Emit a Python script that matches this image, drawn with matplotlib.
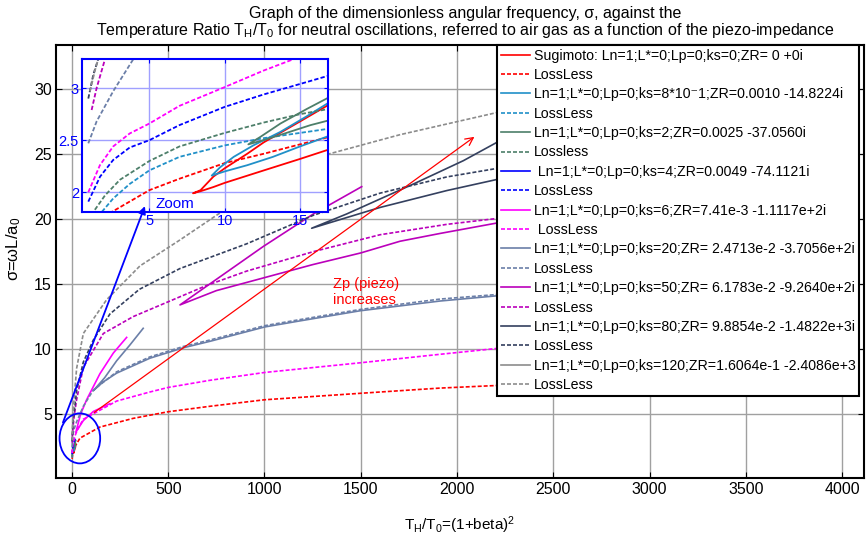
import numpy as np
import matplotlib.pyplot as plt
from matplotlib.patches import Ellipse

plt.rcParams['font.family'] = ['Liberation Sans', 'DejaVu Sans']
plt.rcParams['mathtext.fontset'] = 'custom'
plt.rcParams['mathtext.rm'] = 'Liberation Sans'
plt.rcParams['mathtext.it'] = 'Liberation Sans:italic'

# ---- neutral curves: sigma against TH/T0 (loops drawn lower branch -> tip -> upper branch)
sug_x = [18.0, 16.9, 15.0, 12.6, 10.0, 9.25, 8.4, 7.9, 8.4, 9.25, 10.0, 11.5, 12.6, 15.0, 16.9, 18.0]
sug_y = [2.47, 2.41, 2.32, 2.21, 2.09, 2.05, 2.01, 1.99, 2.02, 2.15, 2.23, 2.37, 2.48, 2.68, 2.84, 2.93]
sugll_x = [1.0, 2.5, 5.0, 7.0, 10.0, 12.6, 15.0, 16.9, 41.6, 145, 318, 500, 717, 1000, 1500, 1912, 2208, 2400]
sugll_y = [1.55, 1.81, 2.02, 2.13, 2.28, 2.37, 2.46, 2.53, 3.15, 4.0, 4.67, 5.18, 5.6, 6.1, 6.6, 7.0, 7.2, 7.35]

k08_x = [18.0, 16.9, 15.0, 13.2, 11.5, 10.0, 9.14, 9.7, 10.6, 11.9, 13.7, 15.45, 16.9, 18.0]
k08_y = [2.58, 2.54, 2.44, 2.34, 2.26, 2.20, 2.16, 2.24, 2.34, 2.45, 2.58, 2.73, 2.86, 2.94]
k08ll_x = [1.2, 1.84, 2.6, 3.7, 5.0, 7.0, 10.0, 12.6, 15.0, 16.9, 18.0]
k08ll_y = [1.65, 1.81, 1.94, 2.08, 2.21, 2.34, 2.45, 2.52, 2.57, 2.61, 2.64]

k2_x = [18.0, 16.9, 15.7, 14.1, 12.8, 11.57, 12.35, 13.7, 15.45, 16.9, 18.0]
k2_y = [2.73, 2.69, 2.645, 2.57, 2.51, 2.46, 2.53, 2.66, 2.80, 2.91, 2.98]
k2ll_x = [1.0, 1.28, 2.06, 3.05, 5.0, 7.0, 10.0, 12.6, 15.0, 16.9, 18.0]
k2ll_y = [1.72, 1.81, 1.97, 2.12, 2.30, 2.44, 2.57, 2.67, 2.75, 2.80, 2.83]

k4_x = []
k4_y = []
k4ll_x = [0.95, 1.73, 2.6, 3.7, 5.0, 7.0, 10.0, 12.6, 15.0, 16.9, 18.0]
k4ll_y = [1.91, 2.15, 2.31, 2.43, 2.50, 2.645, 2.82, 2.94, 3.04, 3.12, 3.16]

k6_x = [197, 111, 59, 20, 45, 76, 145, 215, 284]
k6_y = [5.8, 5.2, 4.5, 3.6, 5.0, 6.1, 8.1, 9.7, 10.9]
k6ll_x = [0.95, 1.72, 2.6, 3.7, 5.0, 7.0, 10.0, 12.6, 14.6, 30, 59, 232, 405, 500, 717, 1000, 1500, 1912, 2208, 2400]
k6ll_y = [2.0, 2.26, 2.44, 2.565, 2.66, 2.83, 3.01, 3.17, 3.28, 3.85, 4.6, 6.0, 6.7, 7.05, 7.6, 8.2, 8.95, 9.6, 10.05, 10.3]

k20_x = [2400, 2206, 1912, 1497, 1176, 1000, 717, 578, 405, 232, 160, 111, 170, 232, 300, 370]
k20_y = [14.35, 14.1, 13.7, 12.95, 12.15, 11.7, 10.6, 10.1, 9.3, 8.15, 7.45, 6.8, 7.8, 9.1, 10.3, 11.6]
k20ll_x = [0.95, 1.5, 2.6, 3.9, 10, 24, 59, 111, 232, 405, 578, 717, 1000, 1176, 1497, 1912, 2206, 2400]
k20ll_y = [2.47, 2.68, 2.97, 3.27, 3.8, 4.4, 5.6, 6.85, 8.25, 9.4, 10.2, 10.7, 11.8, 12.25, 13.05, 13.85, 14.2, 14.45]

k50_x = [2400, 2206, 1912, 1704, 1500, 1250, 1000, 750, 561, 734, 994, 1254, 1505]
k50_y = [20.2, 19.7, 18.9, 18.3, 17.4, 16.5, 15.5, 14.5, 13.4, 15.2, 17.9, 20.4, 22.5]
k50ll_x = [1.17, 1.5, 2.06, 3.5, 10, 24, 59, 163, 318, 509, 700, 907, 1254, 1600, 1947, 2206, 2400]
k50ll_y = [2.79, 3.0, 3.28, 3.6, 4.7, 6.1, 8.6, 11.2, 12.5, 13.7, 14.9, 16.0, 17.5, 18.8, 19.6, 20.05, 20.4]

k80_x = [2400, 2206, 1947, 1600, 1400, 1245, 1427, 1773, 2033, 2206, 2400]
k80_y = [23.5, 23.05, 22.2, 20.9, 20.0, 19.3, 20.4, 22.7, 24.5, 25.9, 27.0]
k80ll_x = [0.95, 1.28, 1.61, 5, 24, 59, 111, 197, 350, 561, 907, 1254, 1600, 1947, 2206, 2400]
k80ll_y = [2.9, 3.13, 3.28, 4.3, 6.8, 9.0, 10.7, 12.7, 14.6, 16.2, 18.1, 20.3, 22.0, 23.25, 23.9, 24.3]

k120_x = []
k120_y = []
k120ll_x = [1.06, 1.39, 1.61, 5, 24, 59, 180, 353, 561, 821, 1081, 1330, 1704, 2206, 2400]
k120ll_y = [2.97, 3.17, 3.28, 5.0, 8.5, 11.2, 13.8, 16.4, 18.4, 21.0, 23.0, 25.0, 26.5, 28.2, 28.8]

labels = [
    'Sugimoto: Ln=1;L*=0;Lp=0;ks=0;ZR= 0 +0i', 'LossLess',
    'Ln=1;L*=0;Lp=0;ks=8*10\u207b1;ZR=0.0010 -14.8224i', 'LossLess',
    'Ln=1;L*=0;Lp=0;ks=2;ZR=0.0025 -37.0560i', 'Lossless',
    ' Ln=1;L*=0;Lp=0;ks=4;ZR=0.0049 -74.1121i', 'LossLess',
    'Ln=1;L*=0;Lp=0;ks=6;ZR=7.41e-3 -1.1117e+2i', ' LossLess',
    'Ln=1;L*=0;Lp=0;ks=20;ZR= 2.4713e-2 -3.7056e+2i', 'LossLess',
    'Ln=1;L*=0;Lp=0;ks=50;ZR= 6.1783e-2 -9.2640e+2i', 'LossLess',
    'Ln=1;L*=0;Lp=0;ks=80;ZR= 9.8854e-2 -1.4822e+3i', 'LossLess',
    'Ln=1;L*=0;Lp=0;ks=120;ZR=1.6064e-1 -2.4086e+3', 'LossLess',
]
colors = ['#ff0000', '#2090c8', '#4d7f6a', '#0000ff', '#ff00ff',
          '#6b7fa8', '#bb00bb', '#34405f', '#8c8c8c']

series = [(sug_x, sug_y), (sugll_x, sugll_y), (k08_x, k08_y), (k08ll_x, k08ll_y),
          (k2_x, k2_y), (k2ll_x, k2ll_y), (k4_x, k4_y), (k4ll_x, k4ll_y),
          (k6_x, k6_y), (k6ll_x, k6ll_y), (k20_x, k20_y), (k20ll_x, k20ll_y),
          (k50_x, k50_y), (k50ll_x, k50ll_y), (k80_x, k80_y), (k80ll_x, k80ll_y),
          (k120_x, k120_y), (k120ll_x, k120ll_y)]

DASH = (0, (2.4, 1.2))

fig = plt.figure(figsize=(8.68, 5.36), dpi=100)
ax = fig.add_axes([0.0645, 0.1082, 0.9309, 0.8078])
ax_in = fig.add_axes([0.0941, 0.605, 0.2838, 0.2849])

handles = []
for i, (xs, ys) in enumerate(series):
    c = colors[i // 2]
    ls = '-' if i % 2 == 0 else DASH
    h, = ax.plot(xs, ys, color=c, ls=ls, lw=1.2, label=labels[i])
    ax_in.plot(xs, ys, color=c, ls=ls, lw=1.3)
    handles.append(h)

# main axes
ax.set_xlim(-83, 4114)
ax.set_ylim(0.08, 33.4)
ax.set_xticks(np.arange(0, 4001, 500))
ax.set_yticks(np.arange(5, 31, 5))
ax.grid(True, color='#a0a0a0', lw=1.0)
ax.tick_params(direction='in', top=True, right=True, length=4, labelsize=11.5, pad=3)
for s in ax.spines.values():
    s.set_linewidth(1.5)
ax.set_xlabel(r'T$_\mathregular{H}$/T$_\mathregular{0}$=(1+beta)$^\mathregular{2}$', fontsize=11)
ax.xaxis.set_label_coords(0.5, -0.085)
ax.set_ylabel('\u03c3=\u03c9L/a$_\mathregular{0}$', fontsize=12)
ax.yaxis.set_label_coords(-0.041, 0.53)

fig.text(0.536, 0.988, 'Graph of the dimensionless angular frequency, \u03c3, against the\n'
         r'Temperature Ratio T$_\mathregular{H}$/T$_\mathregular{0}$ for neutral oscillations, '
         'referred to air gas as a function of the piezo-impedance',
         ha='center', va='top', fontsize=11.5, linespacing=1.0,
         family=['Liberation Sans', 'DejaVu Sans'])

# circle round the low-temperature region and arrows
ax.add_patch(Ellipse((41, 3.13), 211, 3.85, fill=False, edgecolor='#0000ff', lw=1.3, zorder=4))
ax.annotate('', xy=(2102, 26.46), xytext=(104, 5.0),
            arrowprops=dict(arrowstyle='->', color='#ff0000', lw=0.9, mutation_scale=14))
ax.text(1355, 14.4, 'Zp (piezo)\nincreases', color='#ff0000', fontsize=10.5,
        ha='left', va='center', linespacing=1.15)

leg = ax.legend(handles=handles, loc='upper left', bbox_to_anchor=(0.5726, 0.916),
                bbox_transform=fig.transFigure, fontsize=10.2, fancybox=False,
                edgecolor='black', framealpha=1, borderpad=0.25, labelspacing=0.38,
                handlelength=2.1, handletextpad=0.24, borderaxespad=0)
leg.get_frame().set_linewidth(1.5)

# zoomed view
ax_in.set_xlim(0.51, 16.86)
ax_in.set_ylim(1.813, 3.28)
ax_in.set_xticks([5, 10, 15])
ax_in.set_yticks([2, 2.5, 3])
ax_in.set_yticklabels(['2', '2.5', '3'])
ax_in.grid(True, color='#a0a0ff', lw=1.0)
ax_in.tick_params(direction='in', top=True, right=True, length=3, labelsize=10.5,
                  colors='#0000ff', pad=2)
for s in ax_in.spines.values():
    s.set_color('#0000ff')
    s.set_linewidth(1.5)
ax_in.text(5.38, 1.886, 'Zoom', color='#0000ff', fontsize=11, ha='left', va='center')
ax_in.annotate('', xy=(384, 21.2), xytext=(-52, 4.15), xycoords=ax.transData,
               textcoords=ax.transData, annotation_clip=False,
               arrowprops=dict(arrowstyle='-|>', color='#0000ff', lw=1.3, mutation_scale=11))

fig.savefig('out.png', dpi=100)
